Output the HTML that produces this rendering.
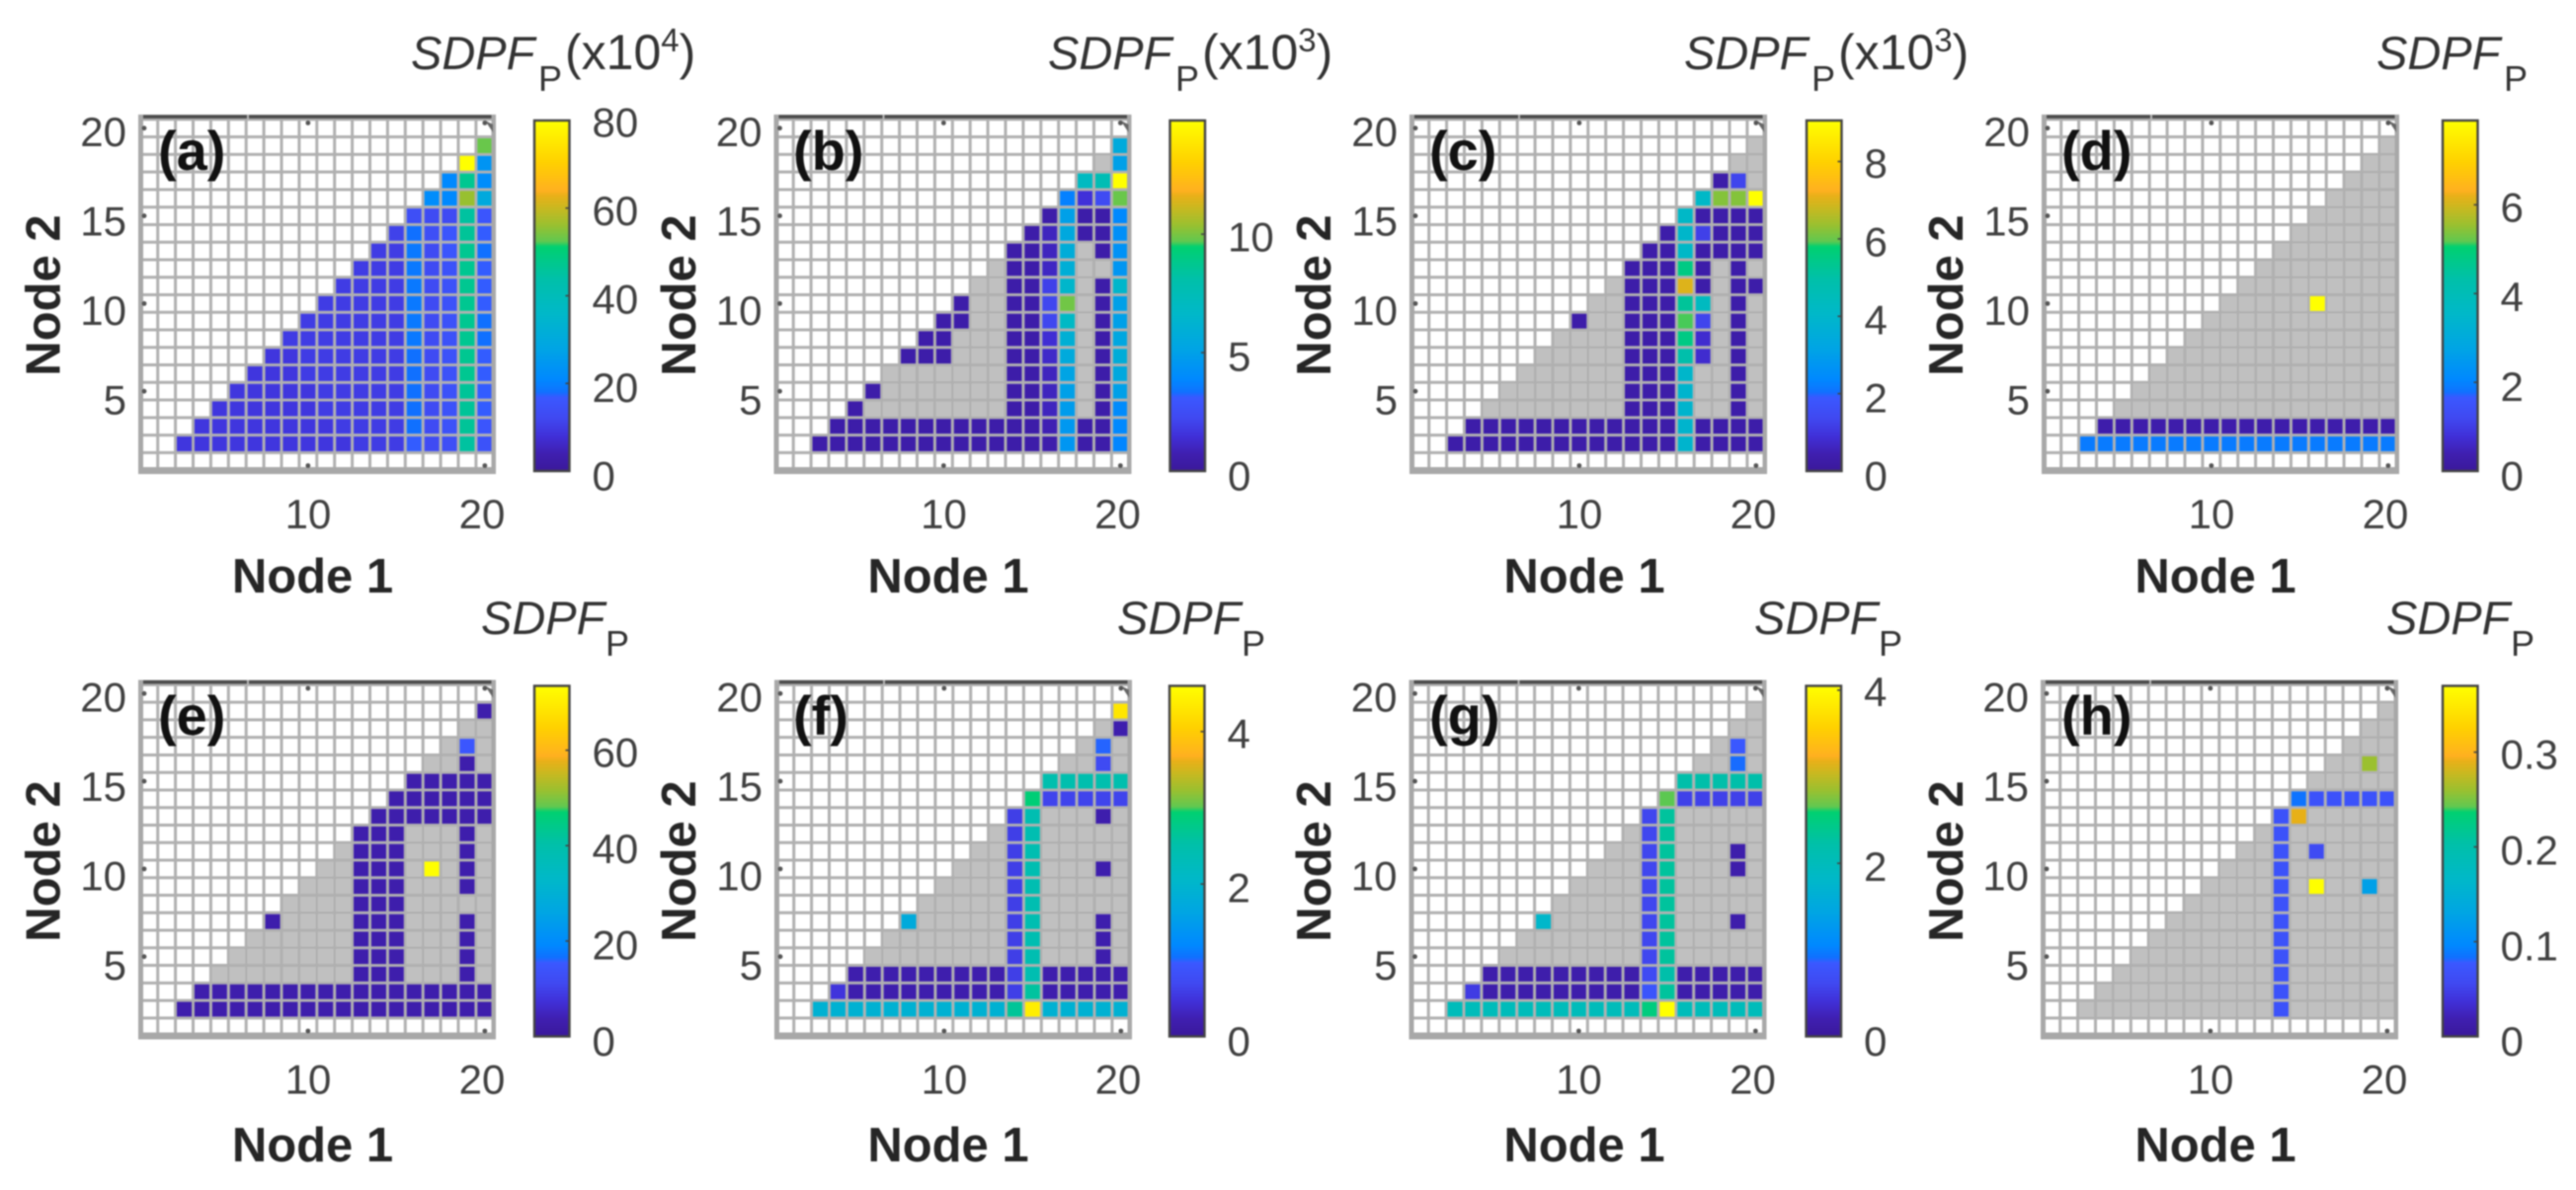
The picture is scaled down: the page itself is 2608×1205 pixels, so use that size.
<!DOCTYPE html>
<html lang="en">
<head>
<meta charset="utf-8">
<title>SDPF panels</title>
<style>
html,body{margin:0;padding:0;background:#fff;}
svg{display:block;filter:blur(0.9px);}
text{font-family:"Liberation Sans",sans-serif;fill:#404040;}
.tick{font-size:42px;}
.axt{font-size:49px;font-weight:bold;fill:#262626;text-anchor:middle;}
.pl{font-size:56px;font-weight:bold;fill:#111;}
.ti{font-size:47px;font-style:italic;fill:#333;}
.sub{font-size:36px;fill:#333;}
.nm{font-size:50px;fill:#333;}
</style>
</head>
<body>
<svg id="fig" xmlns="http://www.w3.org/2000/svg" width="2608" height="1205" viewBox="0 0 2608 1205">
<rect width="2608" height="1205" fill="#fff"/>
<defs id="defs"></defs>

<g id="panel-a" transform="translate(0,0)"></g>
<g id="panel-b" transform="translate(643.5,0)"></g>
<g id="panel-c" transform="translate(1287,0)"></g>
<g id="panel-d" transform="translate(1927,0)"></g>
<g id="panel-e" transform="translate(0,572.5)"></g>
<g id="panel-f" transform="translate(644,572.5)"></g>
<g id="panel-g" transform="translate(1286.5,572.5)"></g>
<g id="panel-h" transform="translate(1926,572.5)"></g>

<!-- static labels: row 1 -->
<g>
<text class="axt" x="316.5" y="600">Node 1</text>
<text class="axt" transform="translate(60.5,299) rotate(-90)">Node 2</text>
<text class="pl" x="160" y="172">(a)</text>
<text class="ti" x="416" y="70">SDPF</text>
<text class="sub" x="545" y="92">P</text>
<text class="nm" x="572" y="70">(x10<tspan dy="-18" font-size="33">4</tspan><tspan dy="18">)</tspan></text>
</g>
<g>
<text class="axt" x="960" y="600">Node 1</text>
<text class="axt" transform="translate(704,299) rotate(-90)">Node 2</text>
<text class="pl" x="803" y="172">(b)</text>
<text class="ti" x="1061" y="70">SDPF</text>
<text class="sub" x="1190" y="92">P</text>
<text class="nm" x="1217" y="70">(x10<tspan dy="-18" font-size="33">3</tspan><tspan dy="18">)</tspan></text>
</g>
<g>
<text class="axt" x="1604" y="600">Node 1</text>
<text class="axt" transform="translate(1347,299) rotate(-90)">Node 2</text>
<text class="pl" x="1447" y="172">(c)</text>
<text class="ti" x="1705" y="70">SDPF</text>
<text class="sub" x="1834" y="92">P</text>
<text class="nm" x="1861" y="70">(x10<tspan dy="-18" font-size="33">3</tspan><tspan dy="18">)</tspan></text>
</g>
<g>
<text class="axt" x="2243" y="600">Node 1</text>
<text class="axt" transform="translate(1987,299) rotate(-90)">Node 2</text>
<text class="pl" x="2087" y="172">(d)</text>
<text class="ti" x="2406" y="70">SDPF</text>
<text class="sub" x="2535" y="92">P</text>
</g>
<!-- static labels: row 2 -->
<g>
<text class="axt" x="316.5" y="1176">Node 1</text>
<text class="axt" transform="translate(60.5,872) rotate(-90)">Node 2</text>
<text class="pl" x="160" y="744">(e)</text>
<text class="ti" x="487" y="642">SDPF</text>
<text class="sub" x="613" y="664">P</text>
</g>
<g>
<text class="axt" x="960" y="1176">Node 1</text>
<text class="axt" transform="translate(704,872) rotate(-90)">Node 2</text>
<text class="pl" x="803" y="744">(f)</text>
<text class="ti" x="1131" y="642">SDPF</text>
<text class="sub" x="1257" y="664">P</text>
</g>
<g>
<text class="axt" x="1604" y="1176">Node 1</text>
<text class="axt" transform="translate(1347,872) rotate(-90)">Node 2</text>
<text class="pl" x="1447" y="744">(g)</text>
<text class="ti" x="1776" y="642">SDPF</text>
<text class="sub" x="1902" y="664">P</text>
</g>
<g>
<text class="axt" x="2243" y="1176">Node 1</text>
<text class="axt" transform="translate(1987,872) rotate(-90)">Node 2</text>
<text class="pl" x="2087" y="744">(h)</text>
<text class="ti" x="2416" y="642">SDPF</text>
<text class="sub" x="2542" y="664">P</text>
</g>
</svg>

<script>
// Each matrix lists rows from Node 2 = 19 (top) to Node 2 = 2 (bottom).
// A row holds values for Node 1 = Node 2 + 1 ... 20. "_" = not significant (grey).
const _ = null;

const xTicks = [10, 20];
const yTicks = [5, 10, 15, 20];

const valuesA = [
[53],
[80,24],
[21,47,22],
[22,21,56,30],
[14,13,13,45,16],
[11,18,14,16,46,17],
[10,10,19,13,16,47,18],
[10,10,10,19,13,15,47,17],
[10,10,10,10,19,13,15,47,17],
[10,10,10,10,10,19,13,15,47,17],
[10,10,10,10,10,10,19,13,15,47,18],
[10,10,10,10,10,10,10,19,13,15,47,18],
[9,9,10,10,10,10,10,10,18,13,15,47,17],
[9,9,9,10,10,10,10,10,10,18,13,15,47,17],
[9,9,9,9,9,10,10,10,10,10,18,13,15,46,17],
[9,9,9,9,9,9,10,10,10,10,10,18,13,15,46,17],
[9,9,9,9,9,9,9,9,10,10,10,10,18,13,15,46,16],
[9,9,9,9,9,9,9,9,9,9,10,10,10,17,13,14,45,15]
];
const vmaxA = 80;
const cbarTicksA = [0,20,40,60,80];

const valuesB = [
[5.6],
[_,5.0],
[7.0,7.6,14.8],
[3.7,1.5,2.4,9.8],
[0.5,5.0,0.5,0.5,3.9],
[0.5,1.0,5.5,0.5,0.5,4.2],
[0.5,0.5,1.0,5.8,_,0.5,4.3],
[_,0.5,0.5,1.1,5.9,_,_,4.5],
[_,_,0.5,0.5,2.0,6.5,_,0.5,6.5],
[0.5,_,_,0.5,0.5,2.2,9.9,_,0.5,5.0],
[0.5,0.5,_,_,0.5,0.5,2.2,6.8,_,0.5,5.0],
[0.5,0.5,_,_,_,0.5,0.5,1.4,6.0,_,0.5,5.4],
[0.5,0.5,0.5,_,_,_,0.5,0.5,1.2,5.6,_,0.5,5.8],
[_,_,_,_,_,_,_,0.5,0.5,1.0,5.2,_,0.5,5.5],
[0.5,_,_,_,_,_,_,_,0.5,0.5,1.0,5.0,_,0.5,5.0],
[0.5,_,_,_,_,_,_,_,_,0.5,0.5,1.0,4.8,_,0.5,4.0],
[0.5,0.5,0.5,0.5,0.5,0.5,0.5,0.5,0.5,0.5,0.5,0.5,0.8,4.6,0.5,0.5,3.9],
[0.5,0.5,0.5,0.5,0.5,0.5,0.5,0.5,0.5,0.5,0.5,0.5,0.5,0.6,4.5,0.5,0.5,3.8]
];
const vmaxB = 14.8;
const cbarTicksB = [0,5,10];

const valuesC = [
[_],
[_,_],
[0.3,1.3,_],
[4.1,6.2,6.2,9.06],
[4.1,0.3,0.3,0.3,0.3],
[0.3,4.0,1.2,0.3,0.3,0.3],
[0.3,0.3,4.1,0.3,0.3,0.3,0.3],
[0.3,0.3,0.3,5.5,0.3,_,0.3,_],
[_,0.3,0.3,0.3,7.0,0.3,_,0.3,0.3],
[_,_,0.3,0.3,0.3,5.2,4.3,_,0.3,_],
[0.3,_,_,0.3,0.3,0.3,5.9,1.3,_,0.3,_],
[_,_,_,_,0.3,0.3,0.3,5.5,0.8,_,0.3,_],
[_,_,_,_,_,0.3,0.3,0.3,4.9,0.8,_,0.3,_],
[_,_,_,_,_,_,0.3,0.3,0.3,4.0,_,_,0.3,_],
[_,_,_,_,_,_,_,0.3,0.3,0.3,3.9,_,_,0.3,_],
[_,_,_,_,_,_,_,_,0.3,0.3,0.3,3.9,_,_,0.3,_],
[0.3,0.3,0.3,0.3,0.3,0.3,0.3,0.3,0.3,0.3,0.3,0.3,3.9,0.3,0.3,0.3,0.3],
[0.3,0.3,0.3,0.3,0.3,0.3,0.3,0.3,0.3,0.3,0.3,0.3,0.3,3.9,0.3,0.3,0.3,0.3]
];
const vmaxC = 9.06;
const cbarTicksC = [0,2,4,6,8];

const valuesD = [
[_],
[_,_],
[_,_,_],
[_,_,_,_],
[_,_,_,_,_],
[_,_,_,_,_,_],
[_,_,_,_,_,_,_],
[_,_,_,_,_,_,_,_],
[_,_,_,_,_,_,_,_,_],
[_,_,_,_,_,7.9,_,_,_,_],
[_,_,_,_,_,_,_,_,_,_,_],
[_,_,_,_,_,_,_,_,_,_,_,_],
[_,_,_,_,_,_,_,_,_,_,_,_,_],
[_,_,_,_,_,_,_,_,_,_,_,_,_,_],
[_,_,_,_,_,_,_,_,_,_,_,_,_,_,_],
[_,_,_,_,_,_,_,_,_,_,_,_,_,_,_,_],
[0.3,0.3,0.3,0.3,0.3,0.3,0.3,0.3,0.3,0.3,0.3,0.3,0.3,0.3,0.3,0.3,0.3],
[1.9,1.9,1.9,1.9,1.9,1.9,1.9,1.9,1.9,1.9,1.9,1.9,1.9,1.9,1.9,1.9,1.9,1.9]
];
const vmaxD = 7.9;
const cbarTicksD = [0,2,4,6];

const valuesE = [
[3],
[_,_],
[_,15,_],
[_,_,3,_],
[3,3,3,3,3],
[3,3,3,3,3,3],
[3,3,3,3,3,3,3],
[3,3,3,_,_,_,3,_],
[_,3,3,3,_,_,_,3,_],
[_,_,3,3,3,_,73.5,_,3,_],
[_,_,_,3,3,3,_,_,_,3,_],
[_,_,_,_,3,3,3,_,_,_,_,_],
[3,_,_,_,_,3,3,3,_,_,_,3,_],
[_,_,_,_,_,_,3,3,3,_,_,_,3,_],
[_,_,_,_,_,_,_,3,3,3,_,_,_,3,_],
[_,_,_,_,_,_,_,_,3,3,3,_,_,_,3,_],
[3,3,3,3,3,3,3,3,3,3,3,3,3,3,3,3,3],
[3,3,3,3,3,3,3,3,3,3,3,3,3,3,3,3,3,3]
];
const vmaxE = 73.5;
const cbarTicksE = [0,20,40,60];

const valuesF = [
[4.3],
[_,0.2],
[_,1.0,_],
[_,_,0.75,_],
[2.45,2.45,2.45,2.45,2.45],
[2.9,0.65,0.65,0.65,0.65,0.65],
[0.6,2.4,_,_,_,0.2,_],
[_,0.6,2.4,_,_,_,_,_],
[_,_,0.6,2.4,_,_,_,_,_],
[_,_,_,0.6,2.4,_,_,_,0.2,_],
[_,_,_,_,0.6,2.4,_,_,_,_,_],
[_,_,_,_,_,0.6,2.4,_,_,_,_,_],
[1.75,_,_,_,_,_,0.6,2.4,_,_,_,0.2,_],
[_,_,_,_,_,_,_,0.6,2.4,_,_,_,0.2,_],
[_,_,_,_,_,_,_,_,0.6,2.4,_,_,_,0.2,_],
[0.2,0.2,0.2,0.2,0.2,0.2,0.2,0.2,0.2,0.6,2.4,0.2,0.2,0.2,0.2,0.2],
[0.5,0.2,0.2,0.2,0.2,0.2,0.2,0.2,0.2,0.2,0.6,2.6,0.2,0.2,0.2,0.2,0.2],
[1.9,1.9,1.9,1.9,1.9,1.9,1.9,1.9,1.9,1.9,1.9,2.65,4.4,1.9,1.9,1.9,1.9,1.9]
];
const vmaxF = 4.6;
const cbarTicksF = [0,2,4];

const valuesG = [
[_],
[_,_],
[_,0.85,_],
[_,_,0.9,_],
[2.2,2.2,2.2,2.2,2.2],
[2.65,0.55,0.55,0.55,0.55,0.55],
[0.6,2.3,_,_,_,_,_],
[_,0.6,2.3,_,_,_,_,_],
[_,_,0.6,2.3,_,_,_,0.16,_],
[_,_,_,0.6,2.3,_,_,_,0.16,_],
[_,_,_,_,0.6,2.3,_,_,_,_,_],
[_,_,_,_,_,0.6,2.3,_,_,_,_,_],
[1.8,_,_,_,_,_,0.6,2.3,_,_,_,0.16,_],
[_,_,_,_,_,_,_,0.6,2.3,_,_,_,_,_],
[_,_,_,_,_,_,_,_,0.6,2.3,_,_,_,_,_],
[0.16,0.16,0.16,0.16,0.16,0.16,0.16,0.16,0.16,0.65,2.2,0.16,0.16,0.16,0.16,0.16],
[0.5,0.16,0.16,0.16,0.16,0.16,0.16,0.16,0.16,0.16,0.8,2.3,0.16,0.16,0.16,0.16,0.16],
[2.0,2.0,2.0,2.0,2.0,2.0,2.0,2.0,2.0,2.0,2.0,2.5,4.05,2.0,2.0,2.0,2.0,2.0]
];
const vmaxG = 4.05;
const cbarTicksG = [0,2,4];

const valuesH = [
[_],
[_,_],
[_,_,_],
[_,_,0.26,_],
[_,_,_,_,_],
[0.085,0.07,0.07,0.07,0.07,0.07],
[0.07,0.29,_,_,_,_,_],
[_,0.07,_,_,_,_,_,_],
[_,_,0.07,_,0.06,_,_,_,_],
[_,_,_,0.07,_,_,_,_,_,_],
[_,_,_,_,0.07,_,0.37,_,_,0.125,_],
[_,_,_,_,_,0.07,_,_,_,_,_,_],
[_,_,_,_,_,_,0.07,_,_,_,_,_,_],
[_,_,_,_,_,_,_,0.07,_,_,_,_,_,_],
[_,_,_,_,_,_,_,_,0.07,_,_,_,_,_,_],
[_,_,_,_,_,_,_,_,_,0.07,_,_,_,_,_,_],
[_,_,_,_,_,_,_,_,_,_,0.07,_,_,_,_,_,_],
[_,_,_,_,_,_,_,_,_,_,_,0.07,_,_,_,_,_,_]
];
const vmaxH = 0.37;
const cbarTicksH = [0,0.1,0.2,0.3];

// colormap: [fraction, hex]
const cmapFractions = [0,0.05,0.1,0.15,0.21,0.225,0.26,0.35,0.45,0.55,0.64,0.655,0.70,0.75,0.785,0.80,0.88,0.94,1];
const cmapColors = ['#3a189a','#3f1fb0','#4030d8','#4048f0','#3a58ff','#1070ff','#0088ff','#00a4e4','#00b8c8','#00c0a8','#00d070','#60c850','#98c030','#c8b820','#e8b018','#ffb020','#ffd000','#ffe800','#ffff00'];

const panels = [
  {id:'a', values:valuesA, vmax:vmaxA, ticks:cbarTicksA, cbShift:0},
  {id:'b', values:valuesB, vmax:vmaxB, ticks:cbarTicksB, cbShift:0},
  {id:'c', values:valuesC, vmax:vmaxC, ticks:cbarTicksC, cbShift:1},
  {id:'d', values:valuesD, vmax:vmaxD, ticks:cbarTicksD, cbShift:5},
  {id:'e', values:valuesE, vmax:vmaxE, ticks:cbarTicksE, cbShift:0},
  {id:'f', values:valuesF, vmax:vmaxF, ticks:cbarTicksF, cbShift:-1},
  {id:'g', values:valuesG, vmax:vmaxG, ticks:cbarTicksG, cbShift:1},
  {id:'h', values:valuesH, vmax:vmaxH, ticks:cbarTicksH, cbShift:6}
];

const NS = 'http://www.w3.org/2000/svg';
const X0 = 141.8, XU = 17.9, Y0 = 476.1, YU = 17.76;
const CB_X = 541, CB_W = 35.5, CB_TOP = 122, CB_BOT = 477;

function xScale(v){ return X0 + (v - 0.5) * XU; }
function yScale(v){ return Y0 - (v - 0.5) * YU; }
function cbScale(f){ return CB_BOT - f * (CB_BOT - CB_TOP); }

function hexToRgb(h){ return [parseInt(h.slice(1,3),16),parseInt(h.slice(3,5),16),parseInt(h.slice(5,7),16)]; }
function colorOf(f){
  f = Math.max(0, Math.min(1, f));
  for (let i = 1; i < cmapFractions.length; i++) {
    if (f <= cmapFractions[i]) {
      const t = (f - cmapFractions[i-1]) / (cmapFractions[i] - cmapFractions[i-1]);
      const a = hexToRgb(cmapColors[i-1]), b = hexToRgb(cmapColors[i]);
      return 'rgb(' + a.map((c,k) => Math.round(c + (b[k]-c)*t)).join(',') + ')';
    }
  }
  return cmapColors[cmapColors.length-1];
}
function mk(parent, tag, attrs){
  const el = document.createElementNS(NS, tag);
  for (const k in attrs) el.setAttribute(k, attrs[k]);
  parent.appendChild(el);
  return el;
}

// shared colorbar gradient
const defs = document.getElementById('defs');
const grad = mk(defs, 'linearGradient', {id:'cb-grad', x1:0, y1:1, x2:0, y2:0});
cmapFractions.forEach((f,i) => { mk(grad, 'stop', {offset:f, 'stop-color':cmapColors[i]}); });

panels.forEach(p => {
  const g = document.getElementById('panel-' + p.id);

  // axes background
  const bg = mk(g, 'rect', {x:X0, y:yScale(20.5), width:XU*20, height:YU*20, fill:'#fff'});
  
  

  // grid lines
  const grid = mk(g, 'g', {stroke:'#b0b0b0', 'stroke-width':3});
  
  
  for (let i = 0; i <= 20; i++) {
    mk(grid, 'line', {x1:xScale(i+0.5), x2:xScale(i+0.5), y1:yScale(20.5), y2:yScale(0.5)});
    mk(grid, 'line', {y1:yScale(i+0.5), y2:yScale(i+0.5), x1:xScale(0.5), x2:xScale(20.5)});
  }

  // cells
  const cells = mk(g, 'g', {});
  
  
  const w = XU * 0.84, h = YU * 0.84;
  p.values.forEach((row, ri) => {
    const node2 = 19 - ri;
    row.forEach((val, ci) => {
      const node1 = node2 + 1 + ci;
      const fill = val === null ? '#c0c0c0' : colorOf(val / p.vmax);
      const c = mk(cells, 'rect', {x:xScale(node1)-w/2, y:yScale(node2)-h/2, width:w, height:h, fill:fill});
      
      
    });
  });

  // frame
  const frame = mk(g, 'g', {});
  
  
  mk(frame, 'rect', {x:140, y:116, width:362, height:5, fill:'#a8a8a8'});
  mk(frame, 'rect', {x:143, y:116.5, width:357, height:3.4, fill:'#4c4c4c'});
  mk(frame, 'rect', {x:250, y:116, width:2, height:5, fill:'#b8b8b8'});
  mk(frame, 'rect', {x:140, y:116, width:5, height:364, fill:'#a8a8a8'});
  mk(frame, 'rect', {x:140, y:473, width:362, height:7, fill:'#a8a8a8'});
  mk(frame, 'rect', {x:497.5, y:116, width:4.5, height:364, fill:'#a8a8a8'});
  mk(frame, 'path', {d:'M491 122 L499 126 L499 134 Z', fill:'#666'});

  // tick marks on the frame
  xTicks.forEach(v => {
    mk(frame, 'circle', {cx:xScale(v), cy:124.5, r:2.4, fill:'#555'});
    mk(frame, 'circle', {cx:xScale(v), cy:471.5, r:2.4, fill:'#555'});
  });
  yTicks.forEach(v => {
    mk(frame, 'circle', {cx:146, cy:yScale(v), r:2.4, fill:'#555'});
  });

  // x tick labels
  xTicks.forEach(v => {
    const t = mk(g, 'text', {class:'tick', 'text-anchor':'middle', x:312 + (v - 10) * 17.6, y:535});
    
    
    t.textContent = v;
  });
  // y tick labels
  yTicks.forEach(v => {
    const t = mk(g, 'text', {class:'tick', 'text-anchor':'end', x:128, y:yScale(v) + 18 + (20 - v) * 0.36});
    
    
    t.textContent = v;
  });

  // colorbar
  const cbx = CB_X + p.cbShift;
  const cb = mk(g, 'rect', {x:cbx, y:CB_TOP, width:CB_W, height:CB_BOT-CB_TOP, fill:'url(#cb-grad)', stroke:'#444', 'stroke-width':2.4});
  
  
  p.ticks.forEach(v => {
    const f = v / p.vmax;
    const t = mk(g, 'text', {class:'tick', x:cbx + CB_W + 23, y:481.7 - f * 358.4 + 15});
    
    
    t.textContent = v;
    mk(g, 'line', {x1:cbx+CB_W-4, x2:cbx+CB_W, y1:cbScale(f), y2:cbScale(f), stroke:'#444', 'stroke-width':1.6});
  });
});
</script>
</body>
</html>
